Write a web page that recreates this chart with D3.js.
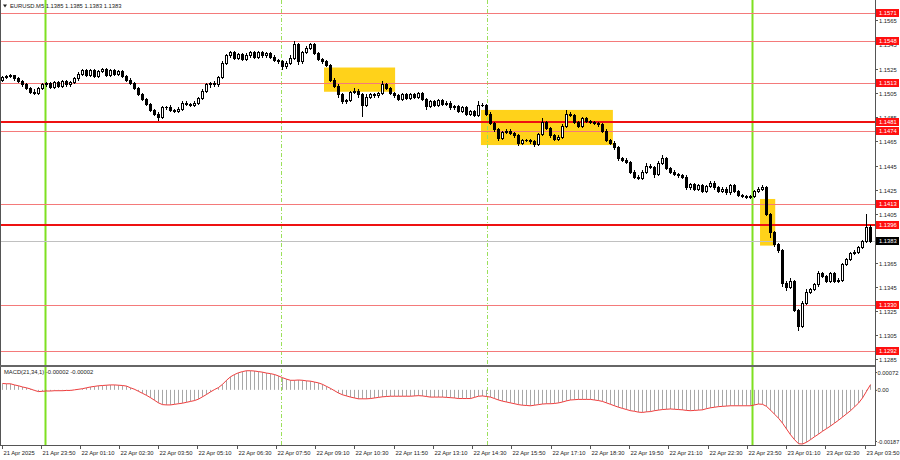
<!DOCTYPE html>
<html><head><meta charset="utf-8">
<script src="https://cdn.jsdelivr.net/npm/d3@7"></script>
<style>body{margin:0;background:#fff;} svg{display:block;font-family:"Liberation Sans",Arial,sans-serif;}</style>
</head><body><svg id="c" width="900" height="460"></svg>
<script>
const symbol = "EURUSD.M5";
const headerQuote = "1.1385 1.1385 1.1383 1.1383";
const macdLabel = "MACD(21,34,1) -0.00002 -0.00002";
const firstOpen = 1.1516;
const closes = [
1.1518,1.1519,1.1520,1.1517,1.1515,1.1512,1.1509,1.1506,1.1505,1.1509,1.1512,1.1513,1.1510,1.1514,1.1511,1.1515,1.1512,1.1514,1.1517,1.1521,
1.1524,1.1520,1.1524,1.1519,1.1523,1.1525,1.1520,1.1524,1.1521,1.1523,1.1519,1.1516,1.1513,1.1509,1.1504,1.1500,1.1496,1.1491,1.1488,1.1485,
1.1493,1.1493,1.1491,1.1490,1.1492,1.1497,1.1496,1.1495,1.1497,1.1501,1.1507,1.1512,1.1513,1.1512,1.1518,1.1530,1.1536,1.1539,1.1534,1.1537,
1.1533,1.1536,1.1539,1.1535,1.1539,1.1536,1.1538,1.1535,1.1532,1.1531,1.1527,1.1530,1.1534,1.1545,1.1531,1.1539,1.1542,1.1545,1.1538,1.1533,
1.1531,1.1528,1.1516,1.1511,1.1504,1.1498,1.1499,1.1506,1.1507,1.1504,1.1495,1.1502,1.1504,1.1503,1.1505,1.1512,1.1509,1.1505,1.1503,1.1500,
1.1504,1.1501,1.1504,1.1502,1.1505,1.1500,1.1494,1.1498,1.1495,1.1499,1.1496,1.1497,1.1493,1.1494,1.1490,1.1493,1.1488,1.1490,1.1487,1.1495,
1.1495,1.1488,1.1480,1.1475,1.1468,1.1473,1.1474,1.1472,1.1470,1.1464,1.1466,1.1466,1.1465,1.1463,1.1471,1.1481,1.1476,1.1470,1.1467,1.1469,
1.1478,1.1488,1.1487,1.1481,1.1478,1.1484,1.1482,1.1481,1.1480,1.1479,1.1474,1.1466,1.1464,1.1460,1.1451,1.1450,1.1448,1.1440,1.1436,1.1435,
1.1440,1.1445,1.1444,1.1438,1.1447,1.1451,1.1443,1.1440,1.1438,1.1437,1.1436,1.1427,1.1430,1.1426,1.1429,1.1424,1.1428,1.1431,1.1427,1.1424,
1.1426,1.1423,1.1429,1.1424,1.1421,1.1420,1.1419,1.1420,1.1424,1.1426,1.1427,1.1405,1.1390,1.1380,1.1375,1.1348,1.1345,1.1350,1.1326,1.1313,
1.1332,1.1341,1.1343,1.1347,1.1356,1.1354,1.1350,1.1356,1.1350,1.1351,1.1364,1.1368,1.1373,1.1374,1.1378,1.1383,1.1394,1.1383];
// wick extensions beyond the body, in pips
const upWick = [
1,1,1,0,1,1,1,1,2,1,1,1,1,1,1,1,1,1,1,1,
1,1,1,1,1,1,1,1,1,1,1,1,1,1,1,1,1,1,1,1,
1,1,2,1,1,1,1,1,1,1,1,1,1,2,1,1,1,1,1,1,
1,2,1,1,1,1,1,1,1,1,1,1,2,3,1,1,2,1,1,1,
1,1,1,1,1,1,1,1,2,1,1,2,1,1,1,3,1,1,1,1,
1,1,1,1,1,1,1,1,1,1,1,1,1,1,1,1,1,1,1,3,
2,1,1,1,1,1,1,1,1,1,1,1,1,1,1,3,1,1,1,1,
1,3,1,1,1,1,1,1,1,1,1,1,1,1,1,1,1,1,1,1,
1,2,1,1,2,3,1,1,1,1,1,1,1,1,1,1,1,1,1,1,
1,1,1,1,1,1,1,1,1,1,2,1,1,1,1,1,2,2,1,1,
1,2,1,1,2,1,1,1,1,1,1,1,1,1,1,1,11,2];
const dnWick = [
1,1,1,1,1,1,1,1,1,1,1,1,1,1,1,1,1,1,1,1,
1,1,1,1,1,1,1,1,1,1,1,1,1,1,1,1,1,1,1,2,
1,1,1,1,1,1,1,1,1,1,1,1,2,1,1,1,1,1,1,1,
1,1,1,1,1,1,1,1,1,1,2,1,1,1,2,1,1,1,1,1,
1,1,1,1,2,1,1,1,1,2,9,1,1,1,1,1,1,1,1,1,
1,1,1,1,1,1,2,1,1,1,1,1,1,1,1,1,1,1,1,1,
1,1,1,1,2,1,1,1,1,2,1,1,1,2,1,1,1,1,1,1,
1,1,1,1,1,1,1,1,1,1,1,1,1,1,1,1,1,1,1,1,
1,1,1,2,1,1,1,1,1,1,1,1,1,1,1,1,1,1,1,1,
1,1,1,1,1,1,1,1,1,1,1,1,4,1,1,2,3,1,1,4,
1,1,1,1,1,1,1,1,1,1,1,1,1,1,1,1,1,1];
// MACD main (=signal, period 1), in units of 0.00001
const macdHist = [
22,21,21,17,14,10,7,3,-2,-6,-5,-4,-4,-3,-3,-3,-2,-2,0,2,
4,7,10,12,14,15,16,17,17,16,15,13,7,2,-5,-12,-19,-27,-36,-45,
-51,-52,-52,-50,-48,-46,-43,-40,-37,-32,-24,-16,-7,1,8,19,33,45,53,59,
63,66,66,65,63,61,58,56,53,48,42,37,33,33,34,33,31,30,27,24,
19,12,5,-3,-11,-17,-21,-25,-28,-31,-31,-31,-30,-28,-26,-24,-23,-22,-22,-22,
-22,-22,-22,-21,-20,-21,-23,-25,-25,-25,-25,-26,-27,-28,-30,-30,-30,-30,-26,-22,
-21,-23,-25,-30,-35,-39,-42,-45,-48,-51,-53,-54,-55,-53,-51,-49,-48,-48,-47,-45,
-42,-38,-35,-34,-33,-33,-33,-33,-35,-37,-40,-45,-50,-55,-60,-64,-68,-72,-74,-77,
-78,-76,-75,-72,-70,-68,-67,-66,-67,-68,-69,-71,-72,-71,-70,-69,-65,-62,-60,-58,
-57,-56,-55,-55,-55,-55,-55,-55,-52,-49,-50,-57,-70,-84,-98,-115,-135,-155,-172,-186,
-187,-181,-172,-162,-153,-143,-134,-125,-115,-105,-94,-83,-72,-59,-46,-28,-5,18];
const levelsThin = [1.1571,1.1548,1.1513,1.1474,1.1413,1.1330,1.1292];
const levelsThick = [1.1481,1.1396];
const lastPrice = 1.1383;
const priceTicks = [1.1565,1.1545,1.1525,1.1505,1.1485,1.1465,1.1445,1.1425,1.1405,1.1385,1.1365,1.1345,1.1325,1.1305,1.1285];
const macdTickValues = [0.00072,0,-0.00187];
const macdTickLabels = ["0.00072","0.00","-0.00187"];
const timeTicks = ["2025-04-21T22:30","2025-04-21T23:50","2025-04-22T01:10","2025-04-22T02:30","2025-04-22T03:50","2025-04-22T05:10","2025-04-22T06:30","2025-04-22T07:50","2025-04-22T09:10","2025-04-22T10:30","2025-04-22T11:50","2025-04-22T13:10","2025-04-22T14:30","2025-04-22T15:50","2025-04-22T17:10","2025-04-22T18:30","2025-04-22T19:50","2025-04-22T21:10","2025-04-22T22:30","2025-04-22T23:50","2025-04-23T01:10","2025-04-23T02:30","2025-04-23T03:50"];
const timeTickLabels = ["21 Apr 2025","21 Apr 23:50","22 Apr 01:10","22 Apr 02:30","22 Apr 03:50","22 Apr 05:10","22 Apr 06:30","22 Apr 07:50","22 Apr 09:10","22 Apr 10:30","22 Apr 11:50","22 Apr 13:10","22 Apr 14:30","22 Apr 15:50","22 Apr 17:10","22 Apr 18:30","22 Apr 19:50","22 Apr 21:10","22 Apr 22:30","22 Apr 23:50","23 Apr 01:10","23 Apr 02:30","23 Apr 03:50"];
const dayLines = ["2025-04-22T00:00","2025-04-23T00:00"];
const sessionLines = ["2025-04-22T08:00","2025-04-22T15:00"];
const zoneStart = ["2025-04-22T09:28","2025-04-22T14:48","2025-04-23T00:17"];
const zoneEnd = ["2025-04-22T11:53","2025-04-22T19:17","2025-04-23T00:48"];
const zoneTop = [1.1526,1.1491,1.14175];
const zoneBottom = [1.1506,1.1462,1.1379];

const svg = d3.select("#c");
const pt = s => new Date(s);
const FONT = 5.8;
const axisX = 875;
const xT = d3.scaleTime().domain([pt("2025-04-21T23:50"), pt("2025-04-23T03:50")]).range([40.5, 864.5]);
const xI = d3.scaleLinear().domain([0, closes.length - 1]).range([2, 870]);
const yP = d3.scaleLinear().domain([1.1292, 1.1571]).range([351, 13]);
const yM = d3.scaleLinear().domain([-0.00187, 0.00072]).range([444, 369]);
const pip = 0.0001;

svg.append("rect").attr("width",900).attr("height",460).attr("fill","#fff");

// zones
const zg = svg.append("g");
zoneStart.forEach((s,k)=>{
  const x0 = xT(pt(s)), x1 = xT(pt(zoneEnd[k]));
  const y0 = yP(zoneTop[k]), y1 = yP(zoneBottom[k]);
  zg.append("rect").attr("x",x0).attr("y",y0).attr("width",x1-x0).attr("height",y1-y0).attr("fill","#ffd21a");
});

// vertical lines
const vg = svg.append("g");
dayLines.forEach(s=>{
  const x = Math.round(xT(pt(s)))+0.5;
  vg.append("line").attr("x1",x).attr("x2",x).attr("y1",0).attr("y2",445).attr("stroke","#7fe020").attr("stroke-width",2);
});
sessionLines.forEach(s=>{
  const x = Math.round(xT(pt(s)))+0.5;
  vg.append("line").attr("x1",x).attr("x2",x).attr("y1",0).attr("y2",445).attr("stroke","#9be05a").attr("stroke-width",1).attr("stroke-dasharray","4,2,1,2");
});

// horizontal levels
const lg = svg.append("g");
lg.append("line").attr("x1",0).attr("x2",axisX).attr("y1",Math.round(yP(lastPrice))+0.5).attr("y2",Math.round(yP(lastPrice))+0.5).attr("stroke","#c0c0c0");
levelsThin.forEach(p=>{
  const y = Math.round(yP(p))+0.5;
  lg.append("line").attr("x1",0).attr("x2",axisX).attr("y1",y).attr("y2",y).attr("stroke","#f47a7a").attr("stroke-width",1);
});
levelsThick.forEach(p=>{
  const y = Math.round(yP(p));
  lg.append("line").attr("x1",0).attr("x2",axisX).attr("y1",y).attr("y2",y).attr("stroke","#ee1111").attr("stroke-width",2);
});

// candles
const cg = svg.append("g");
closes.forEach((c,i)=>{
  const o = i===0 ? firstOpen : closes[i-1];
  const hi = Math.max(o,c) + upWick[i]*pip;
  const lo = Math.min(o,c) - dnWick[i]*pip;
  const x = Math.round(xI(i));
  cg.append("line").attr("x1",x+0.5).attr("x2",x+0.5).attr("y1",Math.round(yP(hi))).attr("y2",Math.round(yP(lo))+1).attr("stroke","#000");
  const yt = Math.round(yP(Math.max(o,c))), yb = Math.round(yP(Math.min(o,c)));
  if (yb - yt < 1) {
    cg.append("line").attr("x1",x-1).attr("x2",x+2).attr("y1",yt+0.5).attr("y2",yt+0.5).attr("stroke","#000");
  } else {
    cg.append("rect").attr("x",x-0.5).attr("y",yt+0.5).attr("width",2).attr("height",yb-yt)
      .attr("fill", c>=o ? "#fff" : "#000").attr("stroke","#000").attr("stroke-width",1);
  }
});

// panel frames
svg.append("line").attr("x1",0.5).attr("x2",0.5).attr("y1",0).attr("y2",446).attr("stroke","#555");
svg.append("rect").attr("x",0).attr("y",365).attr("width",axisX+1).attr("height",2).attr("fill","#666");
svg.append("line").attr("x1",axisX+0.5).attr("x2",axisX+0.5).attr("y1",0).attr("y2",446).attr("stroke","#555");
svg.append("line").attr("x1",0).attr("x2",axisX+1).attr("y1",445.5).attr("y2",445.5).attr("stroke","#555");

// MACD
const mg = svg.append("g");
const y0 = yM(0);
macdHist.forEach((v,i)=>{
  const x = Math.round(xI(i))+0.5;
  mg.append("line").attr("x1",x).attr("x2",x).attr("y1",y0).attr("y2",yM(v*1e-5)).attr("stroke","#a8a8a8").attr("stroke-width",1);
});
mg.append("path").attr("d", d3.line().x((v,i)=>xI(i)+0.5).y(v=>yM(v*1e-5))(macdHist))
  .attr("fill","none").attr("stroke","#f03c3c").attr("stroke-width",1);
mg.append("text").attr("x",4).attr("y",374).attr("font-size",FONT).attr("fill","#222").text(macdLabel);

// header
svg.append("path").attr("d","M3,4.5 L7,4.5 L5,7.5 Z").attr("fill","#222");
svg.append("text").attr("x",10).attr("y",8).attr("font-size",FONT).attr("fill","#222").text(symbol + " " + headerQuote);

// price axis
const ag = svg.append("g").attr("font-size",FONT).attr("fill","#222");
priceTicks.forEach(p=>{
  const y = Math.round(yP(p))+0.5;
  ag.append("line").attr("x1",axisX).attr("x2",axisX+3).attr("y1",y).attr("y2",y).attr("stroke","#555");
  ag.append("text").attr("x",axisX+4).attr("y",y+2).text(d3.format(".4f")(p));
});
macdTickValues.forEach((v,k)=>{
  const yy = k===0 ? 372.5 : (k===2 ? 441.5 : yM(v)+0.5);
  ag.append("line").attr("x1",axisX).attr("x2",axisX+2).attr("y1",yy).attr("y2",yy).attr("stroke","#555");
  ag.append("text").attr("x",axisX+2.5).attr("y",yy+2).attr("font-size",k===2?5.5:FONT).text(macdTickLabels[k]);
});
function tag(p, fill){
  const y = yP(p);
  ag.append("rect").attr("x",axisX+1).attr("y",Math.round(y)-4).attr("width",23).attr("height",8).attr("fill",fill);
  ag.append("text").attr("x",axisX+4).attr("y",Math.round(y)+2).attr("fill","#fff").text(d3.format(".4f")(p));
}
levelsThin.concat(levelsThick).forEach(p=>tag(p,"#ff1010"));
tag(lastPrice,"#000");

// time axis
const tg = svg.append("g").attr("font-size",FONT).attr("fill","#222");
timeTicks.forEach((s,k)=>{
  const x = Math.round(k===0 ? 2 : xT(pt(s)))+0.5;
  tg.append("line").attr("x1",x).attr("x2",x).attr("y1",446).attr("y2",449).attr("stroke","#555");
  tg.append("text").attr("x",x+1).attr("y",455).text(timeTickLabels[k]);
});
</script></body></html>
